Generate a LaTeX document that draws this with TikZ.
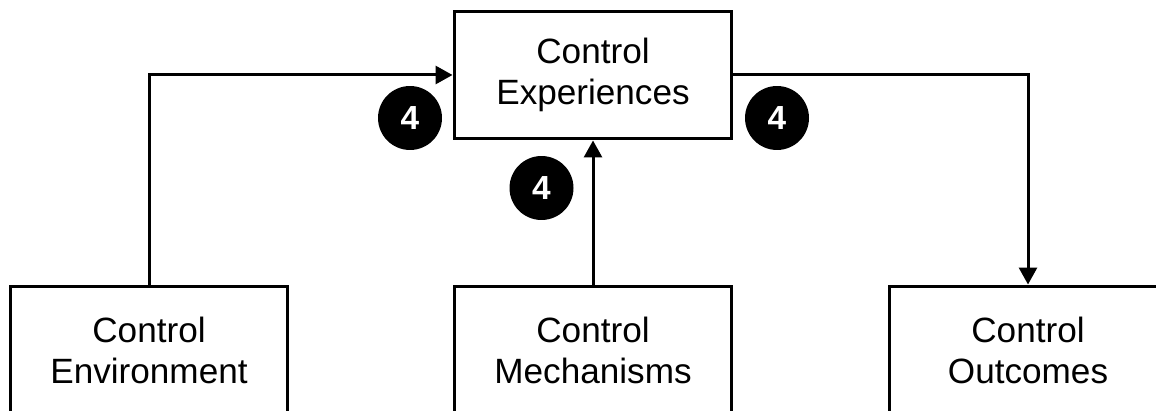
\documentclass[tikz,border=0pt]{standalone}
\usepackage{fontspec}
\setmainfont{Liberation Sans}
\usetikzlibrary{arrows.meta}

\begin{document}
\begin{tikzpicture}[x=0.02cm, y=-0.02cm,
        box/.style={draw, line width=0.06cm, minimum width=5.56cm, minimum height=2.56cm, align=center, font=\fontsize{20}{23.3}\selectfont},
        badge/.style={circle, fill=black, text=white, minimum size=1.28cm, inner sep=0pt, font=\bfseries\fontsize{19}{19}\selectfont},
        link/.style={line width=0.06cm, -{Triangle[length=0.34cm, width=0.36cm]}}]
        \clip (0, 0) rectangle (1156, 411);
        \node[box] (exp) at (593, 75) {Control\\Experiences};
        \node[box] (env) at (149, 350) {Control\\Environment};
        \node[box] (mech) at (593, 350) {Control\\Mechanisms};
        \node[box] (out) at (1028, 350) {Control\\Outcomes};
        \draw[link] (env.north) |- (exp.west);
        \draw[link] (mech.north) -- (exp.south);
        \draw[link] (exp.east) -| (out.north);
        \node[badge] (b1) at (410, 118) {4};
        \node[badge] (b2) at (541.5, 188) {4};
        \node[badge] (b3) at (777, 118) {4};
      \end{tikzpicture}
\end{document}
